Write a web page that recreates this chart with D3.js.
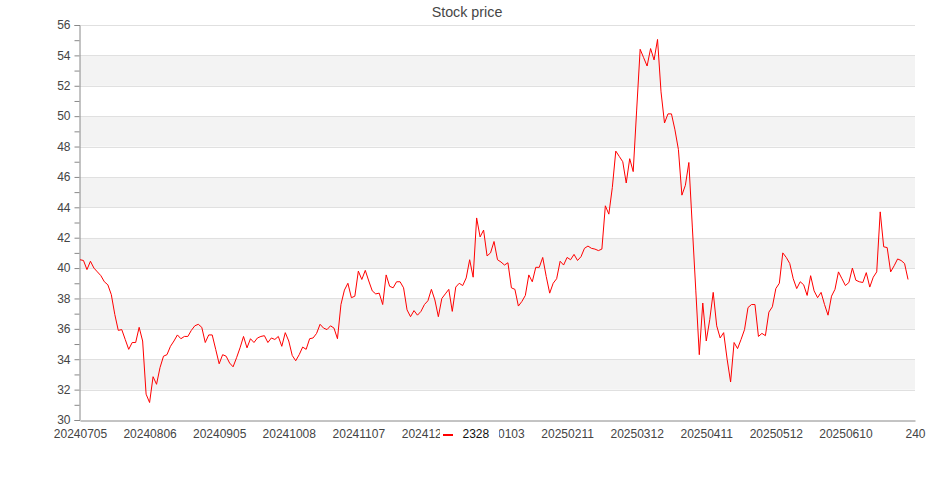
<!DOCTYPE html>
<html>
<head>
<meta charset="utf-8">
<script src="https://cdn.jsdelivr.net/npm/d3@7/dist/d3.min.js"></script>
<style>
  html, body { margin: 0; padding: 0; background: #fff; }
  svg { display: block; font-family: "Liberation Sans", Arial, sans-serif; }
</style>
</head>
<body>
<svg id="chart" width="935" height="500"></svg>
<script>
const seriesName = "2328";
const titleText = "Stock price";
const prices = [
  40.55, 40.5, 39.9, 40.45, 40.0, 39.75, 39.5, 39.1, 38.9, 38.25,
  36.95, 35.9, 35.95, 35.3, 34.65, 35.1, 35.1, 36.1, 35.2, 31.7,
  31.15, 32.85, 32.35, 33.45, 34.2, 34.3, 34.85, 35.2, 35.6, 35.35,
  35.5, 35.5, 35.9, 36.2, 36.3, 36.1, 35.1, 35.6, 35.6, 34.65,
  33.7, 34.3, 34.2, 33.75, 33.5, 34.1, 34.75, 35.5, 34.75, 35.35,
  35.1, 35.4, 35.5, 35.55, 35.1, 35.4, 35.3, 35.5, 34.85, 35.75,
  35.2, 34.25, 33.9, 34.3, 34.8, 34.65, 35.35, 35.4, 35.7, 36.3,
  36.05, 35.95, 36.2, 36.05, 35.35, 37.6, 38.55, 39.0, 38.05, 38.15,
  39.8, 39.25, 39.85, 39.15, 38.5, 38.3, 38.35, 37.6, 39.55, 38.8,
  38.7, 39.1, 39.1, 38.7, 37.25, 36.8, 37.2, 36.9, 37.15, 37.6,
  37.85, 38.6, 37.9, 36.8, 38.0, 38.3, 38.6, 37.15, 38.75, 39.0,
  38.85, 39.35, 40.55, 39.4, 43.3, 42.05, 42.5, 40.8, 41.0, 41.75,
  40.55, 40.4, 40.2, 40.35, 38.7, 38.6, 37.5, 37.8, 38.2, 39.55,
  39.1, 40.05, 40.05, 40.7, 39.45, 38.35, 39.0, 39.3, 40.45, 40.2,
  40.7, 40.55, 40.9, 40.5, 40.75, 41.3, 41.45, 41.3, 41.25, 41.15,
  41.25, 44.1, 43.55, 45.3, 47.7, 47.35, 47.0, 45.6, 47.2, 46.35,
  50.4, 54.4, 53.85, 53.3, 54.45, 53.7, 55.05, 51.6, 49.55, 50.15,
  50.15, 49.1, 47.8, 44.8, 45.45, 46.95, 42.7, 38.5, 34.3, 37.7,
  35.2, 36.6, 38.4, 36.2, 35.4, 35.75, 34.0, 32.5, 35.1, 34.7,
  35.3, 35.95, 37.4, 37.6, 37.6, 35.5, 35.7, 35.55, 37.1, 37.45,
  38.65, 39.0, 41.0, 40.7, 40.3, 39.3, 38.65, 39.1, 38.9, 38.2,
  39.5, 38.5, 38.05, 38.4, 37.6, 36.9, 38.15, 38.6, 39.75, 39.3,
  38.85, 39.05, 40.0, 39.2, 39.1, 39.05, 39.7, 38.75, 39.4, 39.75,
  43.7, 41.4, 41.35, 39.75, 40.15, 40.6, 40.5, 40.3, 39.25
];
const tickLabels = [
  "20240705", "20240806", "20240905", "20241008", "20241107", "20241205",
  "20250103", "20250211", "20250312", "20250411", "20250512", "20250610", "240"
];
const categoryCount = 241;
const labelEvery = 20;
const yMin = 30, yMax = 56;

(function () {
const svg = d3.select("#chart");
const mLeft = 80, mRight = 915, mTop = 25, mBottom = 420;

const x = d3.scaleLinear().domain([0, categoryCount - 1]).range([mLeft, mRight]);
const y = d3.scaleLinear().domain([yMin, yMax]).range([mBottom, mTop]);

const bands = d3.range(yMin, yMax, 2);
svg.append("g").selectAll("rect").data(bands).join("rect")
  .attr("x", mLeft)
  .attr("width", mRight - mLeft)
  .attr("y", d => y(d + 2))
  .attr("height", d => y(d) - y(d + 2))
  .attr("fill", (d, i) => i % 2 === 1 ? "#f3f3f3" : "#ffffff");

svg.append("g").selectAll("line").data(d3.range(yMin + 2, yMax + 1, 2)).join("line")
  .attr("x1", mLeft).attr("x2", mRight)
  .attr("y1", d => Math.round(y(d)) + 0.5).attr("y2", d => Math.round(y(d)) + 0.5)
  .attr("stroke", "#e0e0e0").attr("stroke-width", 1);

const yAxis = d3.axisLeft(y)
  .tickValues(d3.range(yMin, yMax + 1, 1))
  .tickSize(5).tickPadding(4)
  .tickFormat(d => d % 2 === 0 ? d : "");
const gy = svg.append("g").attr("transform", `translate(${mLeft - 0.5},0)`).call(yAxis);
gy.select(".domain").attr("stroke", "#888");
gy.selectAll(".tick line").attr("stroke", "#888");
gy.selectAll(".tick text").attr("fill", "#444").attr("font-size", 12)
  .attr("font-family", "Liberation Sans, Arial, sans-serif");

const xAxis = d3.axisBottom(x)
  .tickValues(d3.range(0, categoryCount, labelEvery))
  .tickSize(0).tickPadding(9)
  .tickFormat((d, i) => tickLabels[i]);
const gx = svg.append("g").attr("transform", `translate(0,${mBottom + 0.5})`).call(xAxis);
gx.select(".domain").attr("stroke", "#888");
gx.selectAll(".tick text").attr("fill", "#444").attr("font-size", 12)
  .attr("font-family", "Liberation Sans, Arial, sans-serif");

const line = d3.line().x((d, i) => x(i)).y(d => y(d));
svg.append("path").datum(prices)
  .attr("d", line)
  .attr("fill", "none")
  .attr("stroke", "#ff0000")
  .attr("stroke-width", 1)
  .attr("stroke-linejoin", "round");

svg.append("text")
  .attr("x", 467).attr("y", 16.5)
  .attr("text-anchor", "middle")
  .attr("font-size", 14.3)
  .attr("fill", "#464646")
  .text(titleText);

const lg = svg.append("g");
lg.append("rect").attr("x", 440).attr("y", 425).attr("width", 59).attr("height", 20).attr("fill", "#fff");
lg.append("rect").attr("x", 443).attr("y", 434).attr("width", 10).attr("height", 2).attr("fill", "#ff0000");
lg.append("text").attr("x", 462.5).attr("y", 437.5).attr("font-size", 12).attr("fill", "#111").text(seriesName);
})();
</script>
</body>
</html>
